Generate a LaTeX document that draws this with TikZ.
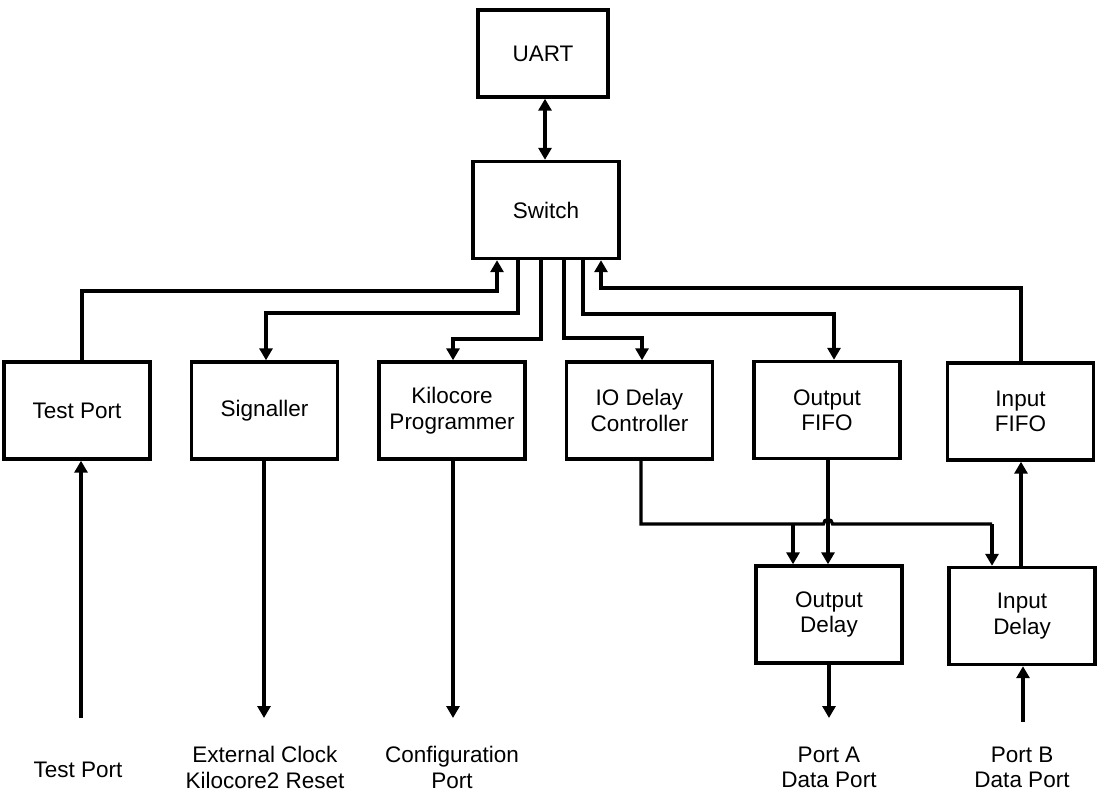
\documentclass[tikz,border=0pt]{standalone}
\usepackage{fontspec}
\setmainfont{Liberation Sans}
\usetikzlibrary{arrows.meta,calc}
\begin{document}
\begin{tikzpicture}[x=1pt,y=-1pt,
  block/.style={draw, line width=3.4pt, minimum width=146pt, minimum height=97pt,
                align=center, inner sep=2pt},
  wire/.style={line width=3.2pt},
  arr/.style={wire, -{Triangle[width=13pt,length=12pt]}},
  darr/.style={wire, {Triangle[width=13pt,length=12pt]}-{Triangle[width=13pt,length=12pt]}},
  portlabel/.style={align=center, inner sep=0pt},
  font=\fontsize{22.5}{25.5}\selectfont]
\useasboundingbox (0,0) rectangle (1097,795);

% blocks
\node[block, minimum width=130pt, minimum height=87pt] (uart) at (543,53.5) {UART};
\node[block] (switch)   at (546,210)   {Switch};
\node[block] (testport) at (77,410.5)  {Test Port};
\node[block] (signal)   at (264.5,410.5) {Signaller};
\node[block] (kilo)     at (452,410.5) {Kilocore\\Programmer};
\node[block] (iodelay)  at (639.5,410.5) {IO Delay\\Controller};
\node[block] (outfifo)  at (827,410)   {Output\\FIFO};
\node[block] (infifo)   at (1020.5,411.5) {Input\\FIFO};
\node[block] (outdelay) at (829,614.5) {Output\\Delay};
\node[block] (indelay)  at (1022,616)  {Input\\Delay};

% external port labels
\node[portlabel] (lblTest) at (78,770)    {Test Port};
\node[portlabel] (lblClk)  at (265,767.5) {External Clock\\Kilocore2 Reset};
\node[portlabel] (lblCfg)  at (452,767.5) {Configuration\\Port};
\node[portlabel] (lblA)    at (829,767.5) {Port A\\Data Port};
\node[portlabel] (lblB)    at (1022,767.5) {Port B\\Data Port};

% free ends of the port wires
\coordinate (endTest) at (81,718);
\coordinate (endClk)  at (264,718);
\coordinate (endCfg)  at (453,718);
\coordinate (endA)    at (829,718);
\coordinate (endB)    at (1023,722);

% routing levels
\coordinate (hIF)  at (0,288);
\coordinate (hTP)  at (0,291);
\coordinate (hSG)  at (0,313);
\coordinate (hOF)  at (0,314);
\coordinate (hIO)  at (0,338);
\coordinate (hKP)  at (0,339);
\coordinate (hBus) at (0,524);

% UART <-> Switch
\draw[darr] ([xshift=2pt]uart.south) -- ([xshift=2pt]uart.south |- switch.north);

% Switch fan-out
\draw[arr] ([xshift=5pt]testport.north) -- ([xshift=5pt]testport.north |- hTP)
  -| ([xshift=-49pt]switch.south);
\draw[arr] ([xshift=-28pt]switch.south) -- ([xshift=-28pt]switch.south |- hSG)
  -| ([xshift=1.5pt]signal.north);
\draw[arr] ([xshift=-5pt]switch.south) -- ([xshift=-5pt]switch.south |- hKP)
  -| ([xshift=1pt]kilo.north);
\draw[arr] ([xshift=18pt]switch.south) -- ([xshift=18pt]switch.south |- hIO)
  -| ([xshift=2.5pt]iodelay.north);
\draw[arr] ([xshift=37pt]switch.south) -- ([xshift=37pt]switch.south |- hOF)
  -| ([xshift=7pt]outfifo.north);
\draw[arr] ([xshift=0.5pt]infifo.north) -- ([xshift=0.5pt]infifo.north |- hIF)
  -| ([xshift=55pt]switch.south);

% external ports
\draw[arr] (endTest) -- (endTest |- testport.south);
\draw[arr] ([xshift=-0.5pt]signal.south) -- (endClk);
\draw[arr] ([xshift=1pt]kilo.south) -- (endCfg);
\draw[arr] (outdelay.south) -- (endA);
\draw[arr] (endB) -- (endB |- indelay.south);

% FIFO <-> delay lines
\draw[arr] ([xshift=1pt]outfifo.south) -- ([xshift=1pt]outfifo.south |- outdelay.north);
\draw[arr] ([xshift=-1pt]indelay.north) -- ([xshift=-1pt]indelay.north |- infifo.south);

% IO delay control bus, hopping over the output FIFO line
\coordinate (busL) at ($([xshift=1.5pt]iodelay.south |- hBus)$);
\coordinate (hop)  at ($([xshift=1pt]outfifo.south |- hBus)$);
\coordinate (busR) at ($([xshift=-30pt]indelay.north |- hBus)$);
\draw[wire] ([xshift=1.5pt]iodelay.south) -- (busL) -- ([xshift=-4.5pt]hop)
  .. controls ([xshift=-4.5pt,yshift=6pt]hop) and ([xshift=4.5pt,yshift=6pt]hop) ..
  ([xshift=4.5pt]hop) -- (busR);
\draw[arr] (busR) -- ([xshift=-30pt]indelay.north);
\draw[arr] ([xshift=-36pt,yshift=1.5pt]outdelay.north |- hBus) -- ([xshift=-36pt]outdelay.north);
\end{tikzpicture}
\end{document}
